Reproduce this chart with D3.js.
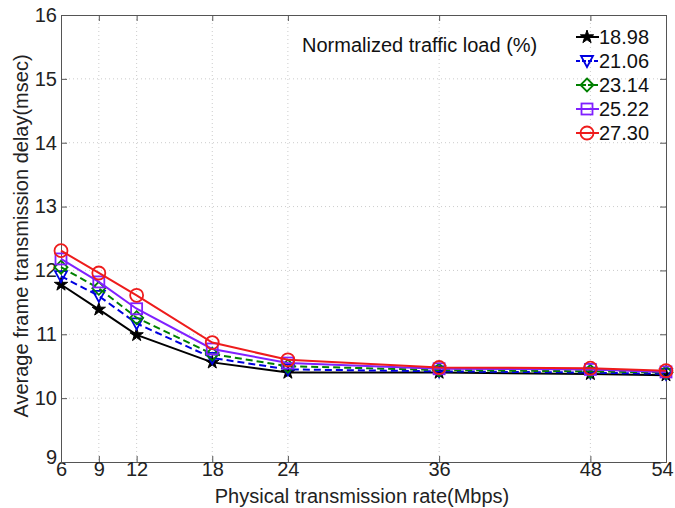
<!DOCTYPE html>
<html><head><meta charset="utf-8">
<script src="https://cdn.jsdelivr.net/npm/d3@7"></script>
<style>body{margin:0;background:#fff}svg{display:block}text{font-family:"Liberation Sans",Arial,sans-serif}</style>
</head><body>
<svg id="c" width="675" height="508"></svg>
<script>
const rates = [6, 9, 12, 18, 24, 36, 48, 54];
const xTicks = [6, 9, 12, 18, 24, 36, 48, 54];
const yTicks = [9, 10, 11, 12, 13, 14, 15, 16];
const loads = ["18.98", "21.06", "23.14", "25.22", "27.30"];
const load1898 = [11.78, 11.39, 10.99, 10.56, 10.40, 10.40, 10.38, 10.36];
const load2106 = [11.91, 11.60, 11.17, 10.63, 10.45, 10.42, 10.40, 10.38];
const load2314 = [12.05, 11.72, 11.26, 10.69, 10.50, 10.44, 10.42, 10.40];
const load2522 = [12.18, 11.82, 11.40, 10.77, 10.55, 10.46, 10.45, 10.41];
const load2730 = [12.31, 11.96, 11.61, 10.87, 10.60, 10.48, 10.47, 10.43];
const seriesVals = [load1898, load2106, load2314, load2522, load2730];
const colors = ["#000000", "#0000e0", "#008000", "#8020ff", "#ee1c1c"];
const dashes = [null, "7,4", "7,4", null, null];
const markers = ["star", "tri", "diamond", "square", "circle"];

const FS = 20;
const svg = d3.select("#c");
const L = 61, R = 666, T = 15, B = 462;
const x = d3.scaleLinear().domain([6, 54]).range([L, R]);
const y = d3.scaleLinear().domain([9, 16]).range([B, T]);

// grid
const g = svg.append("g");
g.selectAll(".gx").data(xTicks.slice(1, -1)).enter().append("line")
  .attr("x1", d => x(d)).attr("x2", d => x(d)).attr("y1", T).attr("y2", B)
  .attr("stroke", "#cccccc").attr("stroke-width", 1).attr("stroke-dasharray", "1,3");
g.selectAll(".gy").data(yTicks.slice(1, -1)).enter().append("line")
  .attr("y1", d => y(d)).attr("y2", d => y(d)).attr("x1", L).attr("x2", R)
  .attr("stroke", "#cccccc").attr("stroke-width", 1).attr("stroke-dasharray", "1,3");

// axes
const xa = svg.append("g").attr("transform", `translate(0,${B})`)
  .call(d3.axisBottom(x).tickValues(xTicks).tickSize(-6).tickPadding(2).tickFormat(d3.format("d")));
const ya = svg.append("g").attr("transform", `translate(${L},0)`)
  .call(d3.axisLeft(y).tickValues(yTicks).tickSize(-6).tickPadding(4).tickFormat(d3.format("d")));
svg.append("g").attr("transform", `translate(0,${T})`)
  .call(d3.axisTop(x).tickValues(xTicks).tickSize(-6).tickFormat(""));
svg.append("g").attr("transform", `translate(${R},0)`)
  .call(d3.axisRight(y).tickValues(yTicks).tickSize(-6).tickFormat(""));
svg.selectAll(".domain").attr("stroke", "#555");
svg.selectAll(".tick line").attr("stroke", "#555");
svg.selectAll(".tick text").attr("font-size", FS).attr("fill", "#222")
  .attr("font-family", '"Liberation Sans",Arial,sans-serif');
xa.selectAll(".tick text").attr("dy", "0.6em");
xa.selectAll(".tick text").filter(d => d === 54).attr("dx", "-4");
ya.selectAll(".tick text").filter(d => d === 9).attr("dy", "0.05em");

// axis titles
svg.append("text").attr("x", 362).attr("y", 503).attr("text-anchor", "middle")
  .attr("font-size", FS).attr("fill", "#222").text("Physical transmission rate(Mbps)");
svg.append("text").attr("transform", `translate(28,236) rotate(-90)`)
  .attr("text-anchor", "middle").attr("font-size", FS).attr("fill", "#222")
  .text("Average frame transmission delay(msec)");

function drawMarker(sel, type, color) {
  if (type === "star") {
    sel.append("path").attr("d", d3.symbol(d3.symbolStar, 55)()).attr("fill", color).attr("stroke", color).attr("stroke-width", 1);
  } else if (type === "tri") {
    sel.append("path").attr("d", "M-6,-5 L6,-5 L0,6 Z").attr("fill", "none").attr("stroke", color).attr("stroke-width", 1.8);
  } else if (type === "diamond") {
    sel.append("path").attr("d", "M0,-6.5 L6.5,0 L0,6.5 L-6.5,0 Z").attr("fill", "none").attr("stroke", color).attr("stroke-width", 1.8);
  } else if (type === "square") {
    sel.append("rect").attr("x", -5.5).attr("y", -5.5).attr("width", 11).attr("height", 11).attr("fill", "none").attr("stroke", color).attr("stroke-width", 1.8);
  } else {
    sel.append("circle").attr("r", 6.5).attr("fill", "none").attr("stroke", color).attr("stroke-width", 1.8);
  }
}

const line = d3.line().x((d, i) => x(rates[i])).y(d => y(d));
seriesVals.forEach((vals, k) => {
  const sg = svg.append("g");
  sg.append("path").datum(vals).attr("d", line).attr("fill", "none")
    .attr("stroke", colors[k]).attr("stroke-width", 2)
    .attr("stroke-dasharray", dashes[k]);
  vals.forEach((v, i) => {
    const m = sg.append("g").attr("transform", `translate(${x(rates[i])},${y(v)})`);
    drawMarker(m, markers[k], colors[k]);
  });
});

// legend
svg.append("text").attr("x", 302).attr("y", 52).attr("font-size", FS).attr("fill", "#111")
  .text("Normalized traffic load (%)");
loads.forEach((lab, k) => {
  const ly = 37 + k * 24;
  const lg = svg.append("g");
  lg.append("line").attr("x1", 576).attr("x2", 599).attr("y1", ly).attr("y2", ly)
    .attr("stroke", colors[k]).attr("stroke-width", 2).attr("stroke-dasharray", dashes[k] ? "4,2" : null);
  const m = lg.append("g").attr("transform", `translate(587,${ly})`);
  drawMarker(m, markers[k], colors[k]);
  lg.append("text").attr("x", 599).attr("y", ly + 7).attr("font-size", FS).attr("fill", "#111").text(lab);
});
</script>
</body></html>
